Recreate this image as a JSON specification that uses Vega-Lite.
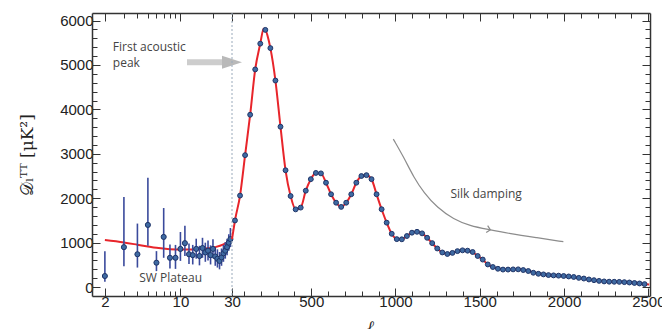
{
  "$schema": "https://vega.github.io/schema/vega-lite/v6.json",
  "background": "white",
  "padding": {"left": 18, "top": 12, "right": 0, "bottom": 0},
  "spacing": 0,
  "bounds": "flush",
  "config": {
    "view": {"stroke": null},
    "axis": {
      "domainColor": "#333",
      "domainWidth": 1.5,
      "tickColor": "#333",
      "tickWidth": 1,
      "labelFont": "Liberation Sans",
      "labelFontSize": 15,
      "labelColor": "#222",
      "grid": false
    }
  },
  "datasets": {
    "theoryLow": [
      {"l": 2, "D": 1060}, {"l": 3, "D": 1005}, {"l": 4, "D": 955}, {"l": 5, "D": 915},
      {"l": 6, "D": 885}, {"l": 8, "D": 855}, {"l": 10, "D": 845}, {"l": 13, "D": 848},
      {"l": 17, "D": 868}, {"l": 21, "D": 900}, {"l": 25, "D": 960}, {"l": 28, "D": 1030},
      {"l": 30, "D": 1080}
    ],
    "low": [
      {"l": 2, "D": 250, "lo": 120, "hi": 810},
      {"l": 3, "D": 900, "lo": 470, "hi": 2030},
      {"l": 4, "D": 740, "lo": 440, "hi": 1430},
      {"l": 5, "D": 1400, "lo": 930, "hi": 2460},
      {"l": 6, "D": 550, "lo": 360, "hi": 810},
      {"l": 7, "D": 1130, "lo": 660, "hi": 1780},
      {"l": 8, "D": 660, "lo": 420, "hi": 960},
      {"l": 9, "D": 660, "lo": 410, "hi": 950},
      {"l": 10, "D": 860, "lo": 590, "hi": 1240},
      {"l": 11, "D": 990, "lo": 700, "hi": 1380},
      {"l": 12, "D": 740, "lo": 520, "hi": 980},
      {"l": 13, "D": 720, "lo": 510, "hi": 950},
      {"l": 14, "D": 860, "lo": 640, "hi": 1090},
      {"l": 15, "D": 700, "lo": 490, "hi": 930},
      {"l": 16, "D": 880, "lo": 660, "hi": 1110},
      {"l": 17, "D": 780, "lo": 570, "hi": 1000},
      {"l": 18, "D": 820, "lo": 600, "hi": 1050},
      {"l": 19, "D": 720, "lo": 510, "hi": 940},
      {"l": 20, "D": 860, "lo": 650, "hi": 1080},
      {"l": 21, "D": 690, "lo": 480, "hi": 900},
      {"l": 22, "D": 640, "lo": 440, "hi": 850},
      {"l": 23, "D": 590, "lo": 400, "hi": 790},
      {"l": 24, "D": 670, "lo": 480, "hi": 870},
      {"l": 25, "D": 760, "lo": 570, "hi": 950},
      {"l": 26, "D": 820, "lo": 640, "hi": 1010},
      {"l": 27, "D": 900, "lo": 720, "hi": 1090},
      {"l": 28, "D": 1000, "lo": 820, "hi": 1190},
      {"l": 29, "D": 1080, "lo": 900, "hi": 1330}
    ],
    "high": [
      {"l": 47.7, "D": 1500}, {"l": 77.7, "D": 2060}, {"l": 107.7, "D": 2970}, {"l": 137.7, "D": 3880},
      {"l": 167.7, "D": 4900}, {"l": 197.7, "D": 5480}, {"l": 227.7, "D": 5790}, {"l": 257.7, "D": 5380},
      {"l": 287.7, "D": 4650}, {"l": 317.7, "D": 3610}, {"l": 347.7, "D": 2630}, {"l": 377.7, "D": 2050},
      {"l": 407.7, "D": 1750}, {"l": 437.7, "D": 1790}, {"l": 467.7, "D": 2170}, {"l": 497.7, "D": 2430},
      {"l": 527.7, "D": 2570}, {"l": 557.7, "D": 2560}, {"l": 587.7, "D": 2350}, {"l": 617.7, "D": 2090},
      {"l": 647.7, "D": 1900}, {"l": 677.7, "D": 1805}, {"l": 707.7, "D": 1900}, {"l": 737.7, "D": 2090},
      {"l": 767.7, "D": 2350}, {"l": 797.7, "D": 2500}, {"l": 827.7, "D": 2520}, {"l": 857.7, "D": 2430},
      {"l": 887.7, "D": 2090}, {"l": 917.7, "D": 1753}, {"l": 947.7, "D": 1451}, {"l": 977.7, "D": 1200},
      {"l": 1007.7, "D": 1080}, {"l": 1037.7, "D": 1076}, {"l": 1067.7, "D": 1150}, {"l": 1097.7, "D": 1225},
      {"l": 1127.7, "D": 1245}, {"l": 1157.7, "D": 1210}, {"l": 1187.7, "D": 1110}, {"l": 1217.7, "D": 990},
      {"l": 1247.7, "D": 870}, {"l": 1277.7, "D": 780}, {"l": 1307.7, "D": 745}, {"l": 1337.7, "D": 770},
      {"l": 1367.7, "D": 810}, {"l": 1397.7, "D": 828}, {"l": 1427.7, "D": 820}, {"l": 1457.7, "D": 790},
      {"l": 1487.7, "D": 700}, {"l": 1517.7, "D": 620}, {"l": 1547.7, "D": 510}, {"l": 1577.7, "D": 452},
      {"l": 1607.7, "D": 413}, {"l": 1637.7, "D": 395}, {"l": 1667.7, "D": 395}, {"l": 1697.7, "D": 399},
      {"l": 1727.7, "D": 400}, {"l": 1757.7, "D": 384}, {"l": 1787.7, "D": 362}, {"l": 1817.7, "D": 323},
      {"l": 1847.7, "D": 300}, {"l": 1877.7, "D": 286}, {"l": 1907.7, "D": 271}, {"l": 1937.7, "D": 264},
      {"l": 1967.7, "D": 258}, {"l": 1997.7, "D": 250}, {"l": 2027.7, "D": 240}, {"l": 2057.7, "D": 228},
      {"l": 2087.7, "D": 208}, {"l": 2117.7, "D": 193}, {"l": 2147.7, "D": 172}, {"l": 2177.7, "D": 156},
      {"l": 2207.7, "D": 140}, {"l": 2237.7, "D": 128}, {"l": 2267.7, "D": 122}, {"l": 2297.7, "D": 120},
      {"l": 2327.7, "D": 118}, {"l": 2357.7, "D": 112}, {"l": 2387.7, "D": 104}, {"l": 2417.7, "D": 93},
      {"l": 2447.7, "D": 82}, {"l": 2477.7, "D": 68}
    ],
    "theoryHigh": [
      {"l": 30, "D": 1080}, {"l": 38, "D": 1270}, {"l": 47.7, "D": 1500}, {"l": 77.7, "D": 2060},
      {"l": 107.7, "D": 2970}, {"l": 137.7, "D": 3880}, {"l": 167.7, "D": 4900}, {"l": 197.7, "D": 5480},
      {"l": 218, "D": 5815}, {"l": 227.7, "D": 5790}, {"l": 257.7, "D": 5380}, {"l": 287.7, "D": 4650},
      {"l": 317.7, "D": 3610}, {"l": 347.7, "D": 2630}, {"l": 377.7, "D": 2050}, {"l": 407.7, "D": 1750},
      {"l": 437.7, "D": 1790}, {"l": 467.7, "D": 2170}, {"l": 497.7, "D": 2430}, {"l": 527.7, "D": 2570},
      {"l": 557.7, "D": 2560}, {"l": 587.7, "D": 2350}, {"l": 617.7, "D": 2090}, {"l": 647.7, "D": 1900},
      {"l": 677.7, "D": 1805}, {"l": 707.7, "D": 1900}, {"l": 737.7, "D": 2090}, {"l": 767.7, "D": 2350},
      {"l": 797.7, "D": 2500}, {"l": 827.7, "D": 2520}, {"l": 857.7, "D": 2430}, {"l": 887.7, "D": 2090},
      {"l": 917.7, "D": 1753}, {"l": 947.7, "D": 1451}, {"l": 977.7, "D": 1200}, {"l": 1007.7, "D": 1080},
      {"l": 1037.7, "D": 1076}, {"l": 1067.7, "D": 1150}, {"l": 1097.7, "D": 1225}, {"l": 1127.7, "D": 1245},
      {"l": 1157.7, "D": 1210}, {"l": 1187.7, "D": 1110}, {"l": 1217.7, "D": 990}, {"l": 1247.7, "D": 870},
      {"l": 1277.7, "D": 780}, {"l": 1307.7, "D": 745}, {"l": 1337.7, "D": 770}, {"l": 1367.7, "D": 810},
      {"l": 1397.7, "D": 828}, {"l": 1427.7, "D": 820}, {"l": 1457.7, "D": 790}, {"l": 1487.7, "D": 700},
      {"l": 1517.7, "D": 620}, {"l": 1547.7, "D": 510}, {"l": 1577.7, "D": 452}, {"l": 1607.7, "D": 413},
      {"l": 1667.7, "D": 395}, {"l": 1727.7, "D": 400}, {"l": 1787.7, "D": 362}, {"l": 1847.7, "D": 300},
      {"l": 1907.7, "D": 271}, {"l": 1967.7, "D": 258}, {"l": 2027.7, "D": 240}, {"l": 2087.7, "D": 208},
      {"l": 2147.7, "D": 172}, {"l": 2207.7, "D": 140}, {"l": 2267.7, "D": 122}, {"l": 2327.7, "D": 118},
      {"l": 2387.7, "D": 104}, {"l": 2447.7, "D": 82}, {"l": 2505, "D": 60}
    ],
    "notesLow": [
      {"l": 2.37, "D": 5414, "t": "First acoustic"},
      {"l": 2.37, "D": 5053, "t": "peak"},
      {"l": 4.16, "D": 210, "t": "SW Plateau"}
    ],
    "arrowBody": [{"l": 11.5, "l2": 26, "D": 5060}],
    "arrowHead": [{"l": 30, "D": 5060}],
    "silk": [
      {"l": 987, "D": 3332}, {"l": 1050, "D": 2917}, {"l": 1109, "D": 2466}, {"l": 1168, "D": 2128},
      {"l": 1247, "D": 1789}, {"l": 1345, "D": 1527}, {"l": 1444, "D": 1376}, {"l": 1543, "D": 1302},
      {"l": 1681, "D": 1202}, {"l": 1839, "D": 1112}, {"l": 1996, "D": 1022}
    ],
    "silkHead": [{"l": 1563, "D": 1290}],
    "silkText": [{"l": 1326, "D": 2105, "t": "Silk damping"}],
    "split": [{"l": 30}]
  },
  "hconcat": [
    {
      "width": 140,
      "height": 283,
      "resolve": {"axis": {"x": "independent", "y": "independent"}},
      "layer": [
        {
          "data": {"name": "theoryLow"},
          "mark": {"type": "line", "color": "#e8252b", "strokeWidth": 2, "interpolate": "monotone"},
          "encoding": {
            "x": {
              "field": "l", "type": "quantitative",
              "scale": {"type": "log", "domain": [1.52, 30], "nice": false},
              "axis": {
                "orient": "bottom", "title": null, "format": "d",
                "values": [2, 3, 4, 5, 6, 7, 8, 9, 10, 20, 30],
                "labelExpr": "datum.value == 2 || datum.value == 10 || datum.value == 30 ? datum.label : ''",
                "tickSize": {"condition": {"test": "datum.value == 2 || datum.value == 10 || datum.value == 30", "value": -8}, "value": -5},
                "labelPadding": 6, "labelFlush": false, "labelOverlap": false
              }
            },
            "y": {
              "field": "D", "type": "quantitative",
              "scale": {"domain": [-200, 6170], "nice": false, "zero": false},
              "axis": {
                "orient": "left", "format": "d",
                "values": [0, 200, 400, 600, 800, 1000, 1200, 1400, 1600, 1800, 2000, 2200, 2400, 2600, 2800, 3000, 3200, 3400, 3600, 3800, 4000, 4200, 4400, 4600, 4800, 5000, 5200, 5400, 5600, 5800, 6000],
                "labelExpr": "datum.value % 1000 === 0 ? datum.label : ''",
                "tickSize": {"condition": {"test": "datum.value % 1000 === 0", "value": -8}, "value": -5},
                "labelPadding": 7, "labelOverlap": false,
                "title": "𝒟ₗᵀᵀ [μK²]",
                "titleFont": "DejaVu Serif", "titleFontSize": 17, "titleFontWeight": "normal",
                "titleColor": "#222", "titlePadding": 23
              }
            }
          }
        },
        {
          "data": {"name": "low"},
          "mark": {"type": "rule", "color": "#3a4a9c", "strokeWidth": 1.6},
          "encoding": {
            "x": {
              "field": "l", "type": "quantitative",
              "axis": {
                "orient": "top", "title": null, "labels": false,
                "values": [2, 3, 4, 5, 6, 7, 8, 9, 10, 20, 30],
                "tickSize": {"condition": {"test": "datum.value == 2 || datum.value == 10 || datum.value == 30", "value": -8}, "value": -5}
              }
            },
            "y": {"field": "lo", "type": "quantitative", "axis": null},
            "y2": {"field": "hi"}
          }
        },
        {
          "data": {"name": "low"},
          "mark": {"type": "point", "filled": true, "size": 26, "color": "#3f6aa2", "stroke": "#1e3468", "strokeWidth": 1, "opacity": 1},
          "encoding": {
            "x": {"field": "l", "type": "quantitative", "axis": null},
            "y": {"field": "D", "type": "quantitative", "axis": null}
          }
        },
        {
          "data": {"name": "arrowBody"},
          "mark": {"type": "rule", "color": "#cdcdcd", "strokeWidth": 6},
          "encoding": {
            "x": {"field": "l", "type": "quantitative", "axis": null},
            "x2": {"field": "l2"},
            "y": {"field": "D", "type": "quantitative", "axis": null}
          }
        },
        {
          "data": {"name": "arrowHead"},
          "mark": {"type": "point", "filled": true, "size": 400, "color": "#b9b9b9", "opacity": 1, "shape": "M-1,-0.65L1,0L-1,0.65Z"},
          "encoding": {
            "x": {"field": "l", "type": "quantitative", "axis": null},
            "y": {"field": "D", "type": "quantitative", "axis": null}
          }
        },
        {
          "data": {"name": "notesLow"},
          "mark": {"type": "text", "align": "left", "baseline": "middle", "font": "Open Sans", "fontSize": 12, "color": "#444"},
          "encoding": {
            "x": {"field": "l", "type": "quantitative", "axis": null},
            "y": {"field": "D", "type": "quantitative", "axis": null},
            "text": {"field": "t"}
          }
        }
      ]
    },
    {
      "width": 418,
      "height": 283,
      "resolve": {"axis": {"x": "independent", "y": "independent"}},
      "layer": [
        {
          "data": {"name": "split"},
          "mark": {"type": "rule", "color": "#9aaabb", "strokeWidth": 1, "strokeDash": [2, 2]},
          "encoding": {
            "x": {"field": "l", "type": "quantitative", "scale": {"domain": [30, 2510], "nice": false, "zero": false}, "axis": null}
          }
        },
        {
          "data": {"name": "theoryHigh"},
          "mark": {"type": "line", "color": "#e8252b", "strokeWidth": 2, "interpolate": "monotone"},
          "encoding": {
            "x": {
              "field": "l", "type": "quantitative",
              "axis": {
                "orient": "bottom", "format": "d",
                "values": [100, 200, 300, 400, 500, 600, 700, 800, 900, 1000, 1100, 1200, 1300, 1400, 1500, 1600, 1700, 1800, 1900, 2000, 2100, 2200, 2300, 2400, 2500],
                "labelExpr": "datum.value % 500 === 0 ? datum.label : ''",
                "tickSize": {"condition": {"test": "datum.value % 500 === 0", "value": -8}, "value": -5},
                "labelPadding": 6, "labelFlush": false, "labelOverlap": false,
                "title": "ℓ", "titleFont": "DejaVu Serif", "titleFontStyle": "italic", "titleFontWeight": "normal",
                "titleFontSize": 16, "titleColor": "#222", "titleAnchor": null, "titleX": 138, "titleY": 22, "titleBaseline": "top"
              }
            },
            "y": {
              "field": "D", "type": "quantitative",
              "scale": {"domain": [-200, 6170], "nice": false, "zero": false},
              "axis": {
                "orient": "right", "labels": false, "title": null,
                "values": [0, 200, 400, 600, 800, 1000, 1200, 1400, 1600, 1800, 2000, 2200, 2400, 2600, 2800, 3000, 3200, 3400, 3600, 3800, 4000, 4200, 4400, 4600, 4800, 5000, 5200, 5400, 5600, 5800, 6000],
                "tickSize": {"condition": {"test": "datum.value % 1000 === 0", "value": -8}, "value": -5}
              }
            }
          }
        },
        {
          "data": {"name": "high"},
          "mark": {"type": "point", "filled": true, "size": 24, "color": "#3f6aa2", "stroke": "#1e3468", "strokeWidth": 1, "opacity": 1},
          "encoding": {
            "x": {
              "field": "l", "type": "quantitative",
              "axis": {
                "orient": "top", "title": null, "labels": false,
                "values": [100, 200, 300, 400, 500, 600, 700, 800, 900, 1000, 1100, 1200, 1300, 1400, 1500, 1600, 1700, 1800, 1900, 2000, 2100, 2200, 2300, 2400, 2500],
                "tickSize": {"condition": {"test": "datum.value % 500 === 0", "value": -8}, "value": -5}
              }
            },
            "y": {"field": "D", "type": "quantitative", "axis": null}
          }
        },
        {
          "data": {"name": "silk"},
          "mark": {"type": "line", "color": "#8c8c8c", "strokeWidth": 1.2, "interpolate": "basis"},
          "encoding": {
            "x": {"field": "l", "type": "quantitative", "axis": null},
            "y": {"field": "D", "type": "quantitative", "axis": null}
          }
        },
        {
          "data": {"name": "silkHead"},
          "mark": {"type": "point", "filled": false, "size": 50, "color": "#8c8c8c", "strokeWidth": 1.2, "opacity": 1, "shape": "M-1,-1L0,0L-1,1", "angle": 12},
          "encoding": {
            "x": {"field": "l", "type": "quantitative", "axis": null},
            "y": {"field": "D", "type": "quantitative", "axis": null}
          }
        },
        {
          "data": {"name": "silkText"},
          "mark": {"type": "text", "align": "left", "baseline": "middle", "font": "Open Sans", "fontSize": 12, "color": "#444"},
          "encoding": {
            "x": {"field": "l", "type": "quantitative", "axis": null},
            "y": {"field": "D", "type": "quantitative", "axis": null},
            "text": {"field": "t"}
          }
        }
      ]
    }
  ]
}
